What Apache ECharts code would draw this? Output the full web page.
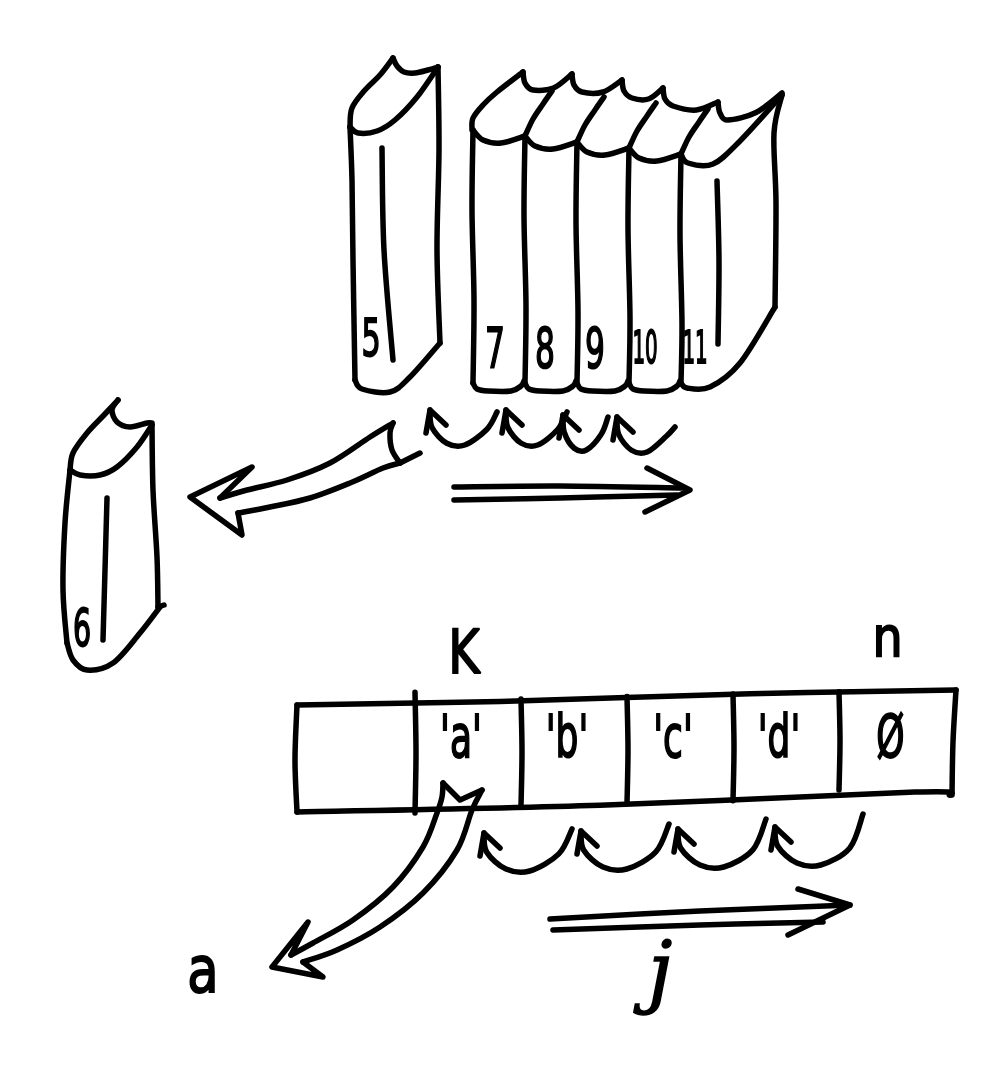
<!DOCTYPE html>
<html><head><meta charset="utf-8">
<script src="https://cdn.jsdelivr.net/npm/echarts@6/dist/echarts.min.js"></script>
<style>html,body{margin:0;padding:0;background:#fff}#c{width:1000px;height:1068px}</style>
</head><body><div id="c"></div><script>
// ---------- data ----------
const shelfBooks = ['7', '8', '9', '10', '11'];
const standingBook = '5';
const removedBook = '6';
const looseBooks = [standingBook, removedBook];
const cells = ['', "'a'", "'b'", "'c'", "'d'", 'Ø'];
const indexNames = ['K', 'n'];
const indexCells = [1, 5];
const removedValue = 'a';
const loopVar = 'j';

// ---------- layout / style ----------
const LW = 5.5, INK = '#000', FONT = 'DejaVu Sans';
const SHELF_X0 = 473, SHELF_STEP = 52, SHELF_T0 = 130, SHELF_DT = 6, SHELF_B = 383;
const PEAKS = [[523, 72], [572, 74], [622, 80], [663, 88], [718, 102]];
const CORNER = [782, 93];
const SHELF_LOOP_X = [430, 506, 563, 617], SHELF_LOOP_W = [67, 61, 45, 58], SHELF_LOOP_Y = [410, 410, 415, 417];
const BOX_X0 = 297, CELL0_W = 118, CELL_W = 106, BOX_X1 = 956;
const INDEX_Y = [657, 641];

function smoothD(p) {
  let d = 'M' + p[0][0] + ' ' + p[0][1];
  for (let i = 0; i < p.length - 1; i++) {
    const p0 = p[i - 1] || p[i], p1 = p[i], p2 = p[i + 1], p3 = p[i + 2] || p2;
    const c1 = [p1[0] + (p2[0] - p0[0]) / 6, p1[1] + (p2[1] - p0[1]) / 6];
    const c2 = [p2[0] - (p3[0] - p1[0]) / 6, p2[1] - (p3[1] - p1[1]) / 6];
    d += ' C' + c1[0] + ' ' + c1[1] + ' ' + c2[0] + ' ' + c2[1] + ' ' + p2[0] + ' ' + p2[1];
  }
  return d;
}
function lineD(p) { return 'M' + p.map(q => q[0] + ' ' + q[1]).join(' L'); }
function kit(api) {
  const P = q => api.coord(q);
  const st = { fill: 'none', stroke: INK, lineWidth: LW, lineCap: 'round', lineJoin: 'round' };
  const S = pts => ({ type: 'path', shape: { pathData: smoothD(pts.map(P)) }, style: st });
  const Ln = pts => ({ type: 'path', shape: { pathData: lineD(pts.map(P)) }, style: st });
  const T = (x, y, text, size, sx, extra) => {
    const q = P([x, y]);
    return { type: 'text', x: q[0], y: q[1], scaleX: sx || 1,
      style: Object.assign({ text: text, fontSize: size, fontFamily: FONT, fill: INK, align: 'center',
        verticalAlign: 'middle', stroke: INK, lineWidth: 2 }, extra || {}) };
  };
  return { S, Ln, T };
}
function loop(S, Ln, tx, ty, w, d, tilt) {
  return [
    Ln([[tx - 4, ty + 23], [tx, ty], [tx + 16, ty + 15]]),
    S([[tx, ty], [tx + 0.03 * w, ty + 0.5 * d], [tx + 0.25 * w, ty + 0.95 * d], [tx + 0.52 * w, ty + d], [tx + 0.85 * w, ty + 0.55 * d], [tx + w, ty + tilt]])
  ];
}

function renderShelf(params, api) {
  const i = params.dataIndex, n = shelfBooks.length;
  const { S, T } = kit(api);
  const L = SHELF_X0 + i * SHELF_STEP, Tp = SHELF_T0 + i * SHELF_DT, B = SHELF_B;
  const last = i === n - 1;
  const ch = [];
  ch.push(S([[L, Tp], [L - 1, Tp + 80], [L + 1, Tp + 170], [L, B]]));
  if (!last) {
    ch.push(S([[L, B], [L + 4, B + 6], [L + 15, B + 8], [L + 38, B + 8], [L + 48, B + 3], [L + 51, B - 2]]));
    ch.push(S([[L, Tp], [L + 10, Tp + 10], [L + 28, Tp + 13], [L + 52, Tp + SHELF_DT]]));
  } else {
    ch.push(S([[L, B], [L + 6, B + 5], [L + 29, B + 4], [L + 59, B - 20], [L + 94, B - 76]]));
    ch.push(S([[L + 94, B - 76], [L + 95, B - 180], [L + 93, B - 250], [CORNER[0], CORNER[1] + 2]]));
    ch.push(S([[L, Tp], [L + 7, Tp + 9], [L + 32, Tp + 10], [L + 59, Tp - 13], [CORNER[0], CORNER[1] + 2]]));
    ch.push(S([[L + 36, Tp + 27], [L + 38, Tp + 107], [L + 37, Tp + 190]]));
  }
  if (i === 0) ch.push(S([[L - 1, Tp], [L, Tp - 12], [L + 10, Tp - 25], [L + 24, Tp - 38], PEAKS[0]]));
  else ch.push(S([[L, Tp], [L + 8, Tp - 17], [L + 18, Tp - 32], [L + 27, Tp - 45]]));
  const a = PEAKS[i], b = last ? CORNER : PEAKS[i + 1];
  ch.push(S([a, [a[0] + 2, a[1] + 11], [a[0] + 10, a[1] + 18], [(a[0] + b[0]) / 2 + 6, (a[1] + b[1]) / 2 + 15], b]));
  const two = shelfBooks[i].length > 1;
  ch.push(T(L + 22 - 2 * i, 352, shelfBooks[i], two ? 44 : 56, two ? 0.45 : 0.56));
  return { type: 'group', children: ch };
}

function renderLoose(params, api) {
  const { S, Ln, T } = kit(api);
  const ch = [];
  if (params.dataIndex === 0) {
    ch.push(S([[350, 127], [352, 180], [353, 260], [355, 380]]));
    ch.push(S([[355, 380], [362, 389], [390, 392], [410, 377], [440, 343]]));
    ch.push(S([[440, 343], [437, 250], [439, 150], [438, 67]]));
    ch.push(S([[350, 127], [358, 133], [377, 131], [395, 120], [417, 97], [438, 67]]));
    ch.push(S([[350, 127], [352, 108], [365, 90], [380, 75], [393, 58]]));
    ch.push(S([[393, 58], [397, 66], [404, 72], [415, 73], [428, 70], [438, 67]]));
    ch.push(S([[382, 148], [384, 250], [393, 360]]));
    ch.push(T(371, 342, looseBooks[0], 52, 0.58));
  } else {
    ch.push(S([[70, 470], [73, 453], [87, 433], [104, 415], [118, 400]]));
    ch.push(S([[118, 400], [112, 410], [117, 422], [130, 427], [147, 423], [152, 423]]));
    ch.push(S([[70, 470], [80, 475], [100, 475], [117, 467], [137, 447], [152, 425]]));
    ch.push(S([[70, 470], [65, 523], [63, 590], [67, 643]]));
    ch.push(S([[67, 643], [73, 660], [87, 670], [113, 663], [140, 633], [160, 607]]));
    ch.push(S([[152, 425], [153, 490], [157, 557], [158, 607]]));
    ch.push(Ln([[158, 607], [164, 605]]));
    ch.push(S([[107, 498], [105, 570], [103, 640]]));
    ch.push(T(82, 632, looseBooks[1], 52, 0.55));
  }
  return { type: 'group', children: ch };
}

const topY = x => 705 - (x - BOX_X0) * 15 / (BOX_X1 - BOX_X0);
const botY = x => 812 - (x - BOX_X0) * 17 / (BOX_X1 - BOX_X0);
const edge = k => k <= 0 ? BOX_X0 : (k >= cells.length ? BOX_X1 : BOX_X0 + CELL0_W + (k - 1) * CELL_W);
const center = k => (edge(k) + edge(k + 1)) / 2;

function renderCell(params, api) {
  const k = params.dataIndex;
  const { S, T } = kit(api);
  const ch = [];
  if (k === 0) {
    ch.push(S([[BOX_X0, topY(BOX_X0)], [500, topY(500) + 1], [750, topY(750) - 1], [BOX_X1, topY(BOX_X1)]]));
    ch.push(S([[BOX_X0, topY(BOX_X0)], [BOX_X0 - 2, 760], [BOX_X0, botY(BOX_X0)]]));
    ch.push(S([[BOX_X0, botY(BOX_X0)], [600, botY(600) + 1], [915, botY(915) - 4], [950, botY(950)]]));
    ch.push(S([[BOX_X1, topY(BOX_X1)], [BOX_X1 - 3, 742], [BOX_X1 - 4, botY(BOX_X1)]]));
  } else {
    const x = edge(k);
    const y1 = topY(x) - (k === 1 ? 10 : 1);
    const y2 = botY(x) + (k === 1 ? 4 : (k === cells.length - 1 ? -8 : 0));
    ch.push(S([[x, y1], [x + 1, (y1 + y2) / 2], [x, y2]]));
  }
  if (cells[k]) ch.push(T(center(k) - 7, 742, cells[k], 58, 0.62));
  return { type: 'group', children: ch };
}

function renderIndex(params, api) {
  const j = params.dataIndex;
  const { T } = kit(api);
  return T(center(indexCells[j]) - (j === 0 ? 4 : 10), INDEX_Y[j], indexNames[j], j === 0 ? 60 : 56, j === 0 ? 0.8 : 0.85);
}

function renderCellShift(params, api) {
  const k = params.dataIndex;
  const { S, Ln } = kit(api);
  return { type: 'group', children: loop(S, Ln, 484 + k * 97, 833 - 2 * k, 88, 38, -4 - 3 * k) };
}
function renderBookShift(params, api) {
  const k = params.dataIndex;
  const { S, Ln } = kit(api);
  return { type: 'group', children: loop(S, Ln, SHELF_LOOP_X[k], SHELF_LOOP_Y[k], SHELF_LOOP_W[k], 35, k === 3 ? 10 : 2) };
}

function renderMoves(params, api) {
  const { S, Ln, T } = kit(api);
  const ch = [];
  if (params.dataIndex === 0) {
    ch.push(S([[393, 423], [370, 437], [330, 463], [287, 480], [247, 490], [220, 498]]));
    ch.push(Ln([[220, 498], [252, 467], [190, 497], [242, 535], [238, 513]]));
    ch.push(S([[238, 513], [270, 507], [310, 498], [350, 483], [383, 468], [400, 463]]));
    ch.push(S([[393, 423], [390, 433], [392, 450], [400, 463]]));
    ch.push(Ln([[400, 463], [420, 453]]));
    ch.push(S([[454, 487], [560, 486], [682, 488]]));
    ch.push(S([[454, 500], [560, 498], [677, 495]]));
    ch.push(Ln([[647, 468], [690, 490], [645, 512]]));
  } else {
    ch.push(S([[443, 783], [442, 797], [437, 813], [423, 847], [393, 887], [353, 920], [313, 943], [291, 955]]));
    ch.push(Ln([[291, 955], [308, 922], [272, 967], [323, 977], [303, 962]]));
    ch.push(S([[303, 962], [337, 950], [380, 927], [423, 893], [457, 850], [472, 810], [482, 790]]));
    ch.push(Ln([[482, 790], [460, 800], [443, 783]]));
    ch.push(S([[550, 919], [700, 911], [850, 905]]));
    ch.push(S([[553, 930], [700, 925], [823, 922]]));
    ch.push(Ln([[798, 889], [850, 905], [788, 935]]));
    ch.push(T(203, 975, removedValue, 64, 0.8));
    ch.push(T(660, 978, loopVar, 78, 1, { fontFamily: 'DejaVu Serif', fontStyle: 'italic', lineWidth: 1.5 }));
  }
  return { type: 'group', children: ch };
}

const base = { type: 'custom', coordinateSystem: 'cartesian2d', silent: true, clip: false, animation: false };
const chart = echarts.init(document.getElementById('c'), null, { renderer: 'canvas' });
chart.setOption({
  backgroundColor: '#fff',
  animation: false,
  grid: { left: 0, right: 0, top: 0, bottom: 0 },
  xAxis: { type: 'value', min: 0, max: 1000, show: false },
  yAxis: { type: 'value', min: 0, max: 1068, inverse: true, show: false },
  series: [
    Object.assign({}, base, { name: 'shelf', data: shelfBooks.map((b, i) => [i, 0]), renderItem: renderShelf }),
    Object.assign({}, base, { name: 'loose', data: looseBooks.map((b, i) => [i, 0]), renderItem: renderLoose }),
    Object.assign({}, base, { name: 'cells', data: cells.map((c, i) => [i, 0]), renderItem: renderCell }),
    Object.assign({}, base, { name: 'index', data: indexNames.map((c, i) => [i, 0]), renderItem: renderIndex }),
    Object.assign({}, base, { name: 'cellShift', data: cells.slice(1, -1).map((c, i) => [i, 0]), renderItem: renderCellShift }),
    Object.assign({}, base, { name: 'bookShift', data: shelfBooks.slice(1).map((c, i) => [i, 0]), renderItem: renderBookShift }),
    Object.assign({}, base, { name: 'moves', data: [removedBook, removedValue].map((c, i) => [i, 0]), renderItem: renderMoves })
  ]
});
</script></body></html>
